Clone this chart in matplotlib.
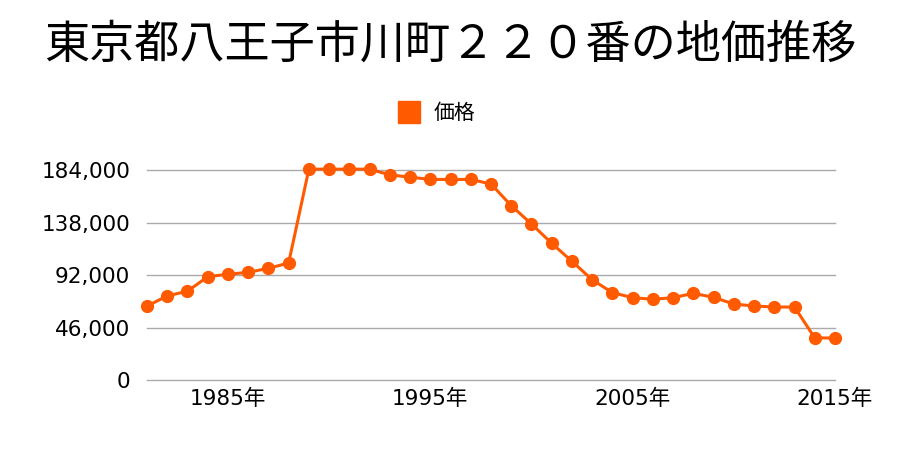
import matplotlib
matplotlib.use('Agg')
import matplotlib.pyplot as plt
from matplotlib.lines import Line2D
from matplotlib.ticker import FuncFormatter

plt.rcParams['font.family'] = ['DejaVu Sans', 'Noto Sans CJK JP']

years = list(range(1981, 2016))
prices = [65000, 74000, 78000, 90800, 92900, 94600, 98100, 102800,
          185000, 185000, 185000, 185000, 180000, 178000, 176000, 176000, 176000, 172000,
          153000, 137000, 120000, 104300, 88100, 76800, 72400, 71000, 72400, 76200,
          72700, 66800, 65100, 64200, 64200, 37100, 37100]
yticks = [0, 46000, 92000, 138000, 184000]
xticks = [1985, 1995, 2005, 2015]
title = '東京都八王子市川町２２０番の地価推移'
color = '#ff5a00'
cjk = ['Noto Sans CJK JP', 'DejaVu Sans']

fig = plt.figure(figsize=(9, 4.5), dpi=100)
ax = fig.add_axes([147/900, 1 - 380.3/450, (835-147)/900, (380.3-170.3)/450])

ax.plot(years, prices, color=color, linewidth=2.2, marker='o', markersize=8.5,
        clip_on=False, zorder=3)

ax.set_xlim(1981, 2015)
ax.set_ylim(0, 184000)
ax.set_yticks(yticks)
ax.set_xticks(xticks)
ax.set_xticklabels([f'{y}年' for y in xticks])
ax.yaxis.set_major_formatter(FuncFormatter(lambda v, p: f'{int(v):,}'))
ax.grid(axis='y', color='#aaaaaa', linewidth=1)
for gl in ax.yaxis.get_gridlines():
    gl.set_clip_on(False)
ax.set_axisbelow(True)
for s in ax.spines.values():
    s.set_visible(False)
ax.tick_params(length=0, labelsize=15.5)
ax.tick_params(axis='y', pad=12)
ax.tick_params(axis='x', pad=6)

fig.text(0.5, 1 - 45/450, title, ha='center', va='center', fontsize=32.5,
         family=cjk)

handle = Line2D([], [], color=color, marker='s', linestyle='none', markersize=16)
fig.legend([handle], ['価格'], loc='center', bbox_to_anchor=(0.48, 1 - 113/450),
           frameon=False, prop={'family': cjk, 'size': 15}, handletextpad=0.2)

fig.savefig('out.png', dpi=100)
